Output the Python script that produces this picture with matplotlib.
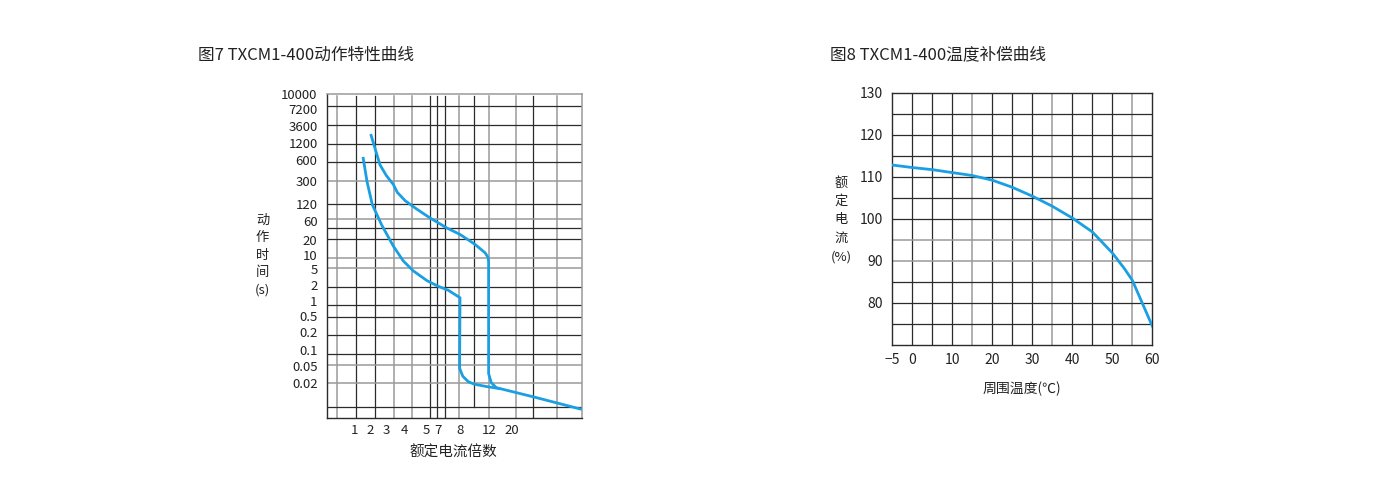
import matplotlib
matplotlib.use("Agg")
import matplotlib.pyplot as plt

plt.rcParams['font.family'] = ['Noto Sans CJK SC', 'DejaVu Sans']

# ---- figure 7 : trip characteristic (schematic grid units) ----
multiple_labels = ["1", "2", "3", "4", "5", "7", "8", "12", "20"]
time_labels = ["10000", "7200", "3600", "1200", "600", "300", "120", "60", "20",
               "10", "5", "2", "1", "0.5", "0.2", "0.1", "0.05", "0.02"]

# curve tripping instantly at 8x
curve8_x = [35.7, 39.7, 45.0, 54.5, 66.0, 76.0, 86.0, 100.0, 111.0, 121.0, 132.7,
            132.3, 135.5, 141.0, 147.0, 160.0, 173.0, 206.0, 254.4]
curve8_y = [61.3, 86.0, 109.3, 130.0, 151.0, 166.0, 176.0, 186.0, 191.5, 195.5, 203.0,
            274.0, 282.0, 287.5, 290.0, 292.5, 294.5, 302.7, 315.3]
# curve tripping instantly at 12x
curve12_x = [43.4, 47.7, 52.7, 59.0, 66.0, 70.0, 78.0, 89.0, 102.7, 119.4, 132.7,
             147.7, 157.7, 160.7, 161.3, 161.3, 164.0, 169.0, 173.0]
curve12_y = [38.3, 52.7, 69.3, 80.0, 89.0, 97.0, 105.5, 113.5, 122.7, 132.7, 139.3,
             149.3, 157.7, 162.3, 166.0, 279.3, 288.5, 293.5, 294.5]

# ---- figure 8 : temperature compensation ----
temp = [-5, 0, 5, 10, 15, 20, 25, 30, 35, 40, 45, 50, 53, 55, 60]
rated_pct = [112.8, 112.2, 111.7, 111.0, 110.3, 109.2, 107.5, 105.4, 103.0, 100.2,
             96.9, 91.9, 88.2, 85.4, 74.5]

# layout of the hand-drawn grid in fig 7
multiple_tick_pos = [27.0, 43.0, 59.5, 77.0, 98.7, 110.8, 132.7, 161.7, 184.5]
time_tick_pos = [-2, 13, 29.7, 47.7, 64, 86, 108.7, 125.3, 145.3, 160, 174.3, 190,
                 206.7, 221, 237.7, 256, 271.7, 288.3]
vgrid = [10, 28.7, 48, 67, 85, 103, 109.3, 117.3, 132, 147, 161.7, 188.3, 206, 229.3]
vgrid_dark = [False, True, True, False, False, True, True, True, False, True,
              False, False, True, False]
hgrid = [10, 29.3, 48, 66.3, 85.7, 108.7, 123.3, 132.7, 144.3, 163.3, 172.7, 192,
         210.3, 222, 240.3, 259.3, 270.3, 288.7, 312.7]
hgrid_dark = [True, True, True, True, False, True, False, True, True, False, False,
              True, True, True, True, True, False, False, True]

DARK = "#2b2b2b"
GRAY = "#9a9a9a"
BLUE = "#1a9fe3"

W, H = 1390, 500
fig = plt.figure(figsize=(W / 100, H / 100), dpi=100)

# left chart
ax1 = fig.add_axes([327.3 / W, (H - 418) / H, 254.4 / W, 324 / H])
ax1.set_xlim(0, 254.4)
ax1.set_ylim(324, 0)
for x, d in zip(vgrid, vgrid_dark):
    ymax = 312.7 if x == 147 else 324
    ax1.plot([x, x], [0, ymax], color=DARK if d else GRAY,
             lw=0.9 if d else 1.1, zorder=1)
for y, d in zip(hgrid, hgrid_dark):
    ax1.axhline(y, color=DARK if d else GRAY, lw=0.9 if d else 1.1, zorder=1)
ax1.plot(curve8_x, curve8_y, color=BLUE, lw=2.0, zorder=3, solid_capstyle='butt')
ax1.plot(curve12_x, curve12_y, color=BLUE, lw=2.0, zorder=3, solid_capstyle='butt')
ax1.set_xticks(multiple_tick_pos, multiple_labels)
ax1.set_yticks(time_tick_pos, time_labels)
ax1.tick_params(length=0, labelsize=9.5, colors="#222222")
ax1.tick_params(axis='y', pad=7)
ax1.tick_params(axis='x', pad=4)
for s in ['top', 'right']:
    ax1.spines[s].set_color(GRAY)
    ax1.spines[s].set_linewidth(1.1)
for s in ['left', 'bottom']:
    ax1.spines[s].set_color(DARK)
    ax1.spines[s].set_linewidth(1.0)

fig.text(198 / W, 1 - 55 / H, "图7 TXCM1-400动作特性曲线", fontsize=12,
         color="#222222", ha='left', va='center')
fig.text(453 / W, 1 - 453 / H, "额定电流倍数", fontsize=10.5, color="#222222",
         ha='center', va='center')
fig.text(262.5 / W, 1 - 255 / H, "动\n作\n时\n间\n(s)", fontsize=9.5,
         color="#222222", ha='center', va='center', linespacing=1.45)

# right chart
ax2 = fig.add_axes([892.3 / W, (H - 345) / H, 260 / W, 252.3 / H])
ax2.set_xlim(-5, 60)
ax2.set_ylim(70, 130)
for x in range(0, 60, 5):
    g = x in (15, 35, 55)
    ax2.axvline(x, color=GRAY if g else DARK, lw=1.1 if g else 0.9, zorder=1)
for y in range(75, 130, 5):
    g = y in (90, 95)
    ax2.axhline(y, color=GRAY if g else DARK, lw=1.1 if g else 0.9, zorder=1)
ax2.plot(temp, rated_pct, color=BLUE, lw=2.0, zorder=3)
ax2.set_xticks([-5, 0, 10, 20, 30, 40, 50, 60],
               ["−5", "0", "10", "20", "30", "40", "50", "60"])
ax2.set_yticks([80, 90, 100, 110, 120, 130])
ax2.tick_params(length=0, labelsize=10, colors="#222222")
ax2.tick_params(axis='y', pad=7)
ax2.tick_params(axis='x', pad=6)
for s in ax2.spines.values():
    s.set_color(DARK)
    s.set_linewidth(1.0)

fig.text(830 / W, 1 - 55 / H, "图8 TXCM1-400温度补偿曲线", fontsize=12,
         color="#222222", ha='left', va='center')
fig.text(1022 / W, 1 - 389 / H, "周围温度(℃)", fontsize=10, color="#222222",
         ha='center', va='center')
fig.text(841 / W, 1 - 220 / H, "额\n定\n电\n流\n(%)", fontsize=9.5,
         color="#222222", ha='center', va='center', linespacing=1.55)

fig.savefig("out.png", dpi=100, facecolor="white")
